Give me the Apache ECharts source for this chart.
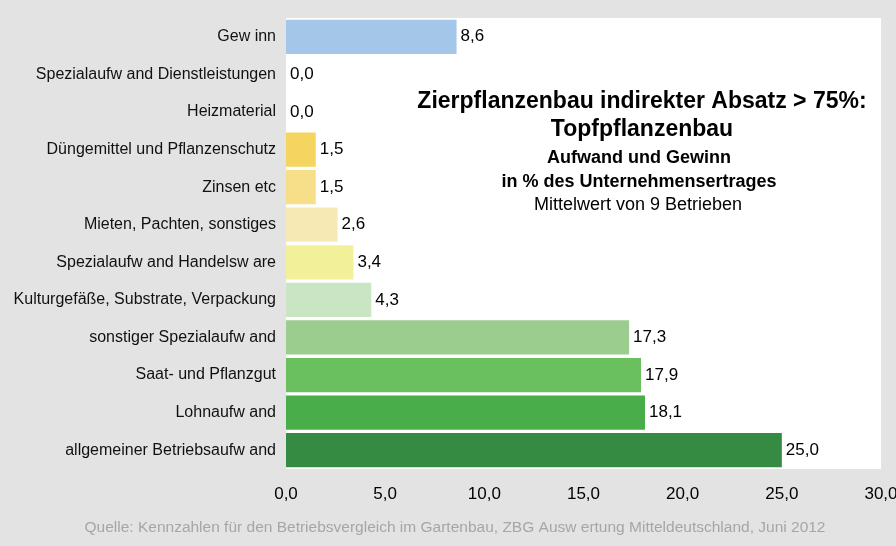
<!DOCTYPE html>
<html>
<head>
<meta charset="utf-8">
<script src="https://cdn.jsdelivr.net/npm/echarts@6/dist/echarts.min.js"></script>
<style>
  html, body { margin: 0; padding: 0; background: #e3e3e3; }
  #chart { width: 896px; height: 546px; }
</style>
</head>
<body>
<div id="chart"></div>
<script>
// Kategorien von oben nach unten
const categories = [
  'Gew inn',
  'Spezialaufw and Dienstleistungen',
  'Heizmaterial',
  'Düngemittel und Pflanzenschutz',
  'Zinsen etc',
  'Mieten, Pachten, sonstiges',
  'Spezialaufw and Handelsw are',
  'Kulturgefäße, Substrate, Verpackung',
  'sonstiger Spezialaufw and',
  'Saat- und Pflanzgut',
  'Lohnaufw and',
  'allgemeiner Betriebsaufw and'
];
const values = [8.6, 0.0, 0.0, 1.5, 1.5, 2.6, 3.4, 4.3, 17.3, 17.9, 18.1, 25.0];
const barColors = [
  '#a4c6e8', '#f5d560', '#f5d560', '#f5d560', '#f7df89', '#f7e9b4',
  '#f3f09a', '#c9e5c3', '#9acd8e', '#6abf5f', '#49ae4a', '#358b42'
];

const fmt = v => v.toFixed(1).replace('.', ',');

const chart = echarts.init(document.getElementById('chart'));

chart.setOption({
  backgroundColor: '#e3e3e3',
  textStyle: { fontFamily: 'Liberation Sans, Arial, sans-serif' },
  grid: {
    left: 286, right: 15, top: 18, bottom: 77,
    containLabel: false, outerBoundsMode: 'none',
    show: true, backgroundColor: '#ffffff', borderWidth: 0
  },
  title: [
    {
      text: 'Zierpflanzenbau indirekter Absatz > 75%:\nTopfpflanzenbau',
      left: 637, top: 83, textAlign: 'center',
      textStyle: { fontSize: 23, fontWeight: 'bold', color: '#000', lineHeight: 28 }
    },
    {
      text: 'Aufwand und Gewinn\nin % des Unternehmensertrages',
      left: 634, top: 141, textAlign: 'center',
      textStyle: { fontSize: 18, fontWeight: 'bold', color: '#000', lineHeight: 24 }
    },
    {
      text: 'Mittelwert von 9 Betrieben',
      left: 633, top: 191, textAlign: 'center',
      textStyle: { fontSize: 18, fontWeight: 'normal', color: '#000' }
    },
    {
      text: 'Quelle: Kennzahlen für den Betriebsvergleich im Gartenbau, ZBG Ausw ertung Mitteldeutschland, Juni 2012',
      left: 450, top: 515, textAlign: 'center',
      textStyle: { fontSize: 15.5, fontWeight: 'normal', color: '#a6a6a6' }
    }
  ],
  xAxis: {
    type: 'value',
    min: 0, max: 30, interval: 5,
    axisLine: { show: false },
    axisTick: { show: false },
    splitLine: { show: false },
    axisLabel: {
      formatter: fmt, fontSize: 17, color: '#000', margin: 17,
      showMaxLabel: true
    }
  },
  yAxis: {
    type: 'category',
    data: categories,
    inverse: true,
    axisLine: { show: false },
    axisTick: { show: false },
    axisLabel: { fontSize: 16, color: '#111', margin: 10 }
  },
  series: [{
    type: 'bar',
    data: values.map((v, i) => ({ value: v, itemStyle: { color: barColors[i] } })),
    barCategoryGap: '9%',
    label: {
      show: true, position: 'right', distance: 4,
      fontSize: 17, color: '#000',
      formatter: p => fmt(p.value)
    }
  }]
});

window.addEventListener('resize', () => chart.resize());
</script>
</body>
</html>
